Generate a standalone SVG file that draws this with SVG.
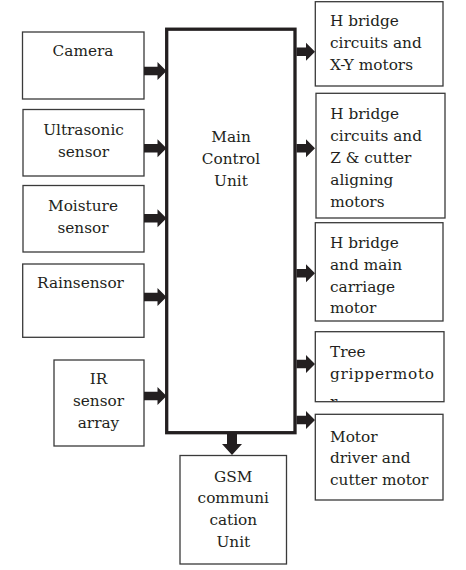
<svg xmlns="http://www.w3.org/2000/svg" width="466" height="570" viewBox="0 0 466 570">
<defs>
<style>
.box{fill:#fff;stroke:#3a3a3a;stroke-width:1.3}
.main{fill:#fff;stroke:#231f20;stroke-width:3.3}
.arr{fill:#231f20}
text{font-family:"DejaVu Serif","Liberation Serif",serif;font-size:15.3px;fill:#231f20}
.c{text-anchor:middle}
</style>
<clipPath id="clipTree"><rect x="316" y="332" width="128" height="69"/></clipPath>
</defs>
<rect width="466" height="570" fill="#fff"/>
<g id="main-control-unit">
<rect class="main" x="166.7" y="29.2" width="128.3" height="403.5"/>
<text class="c" x="231" y="141.5">Main</text>
<text class="c" x="231" y="163.5">Control</text>
<text class="c" x="231" y="185.5">Unit</text>
</g>
<g id="camera">
<rect class="box" x="22.5" y="32" width="121.5" height="67"/>
<text class="c" x="83" y="55.7">Camera</text>
</g>
<g id="ultrasonic">
<rect class="box" x="23" y="109.5" width="121" height="66.5"/>
<text class="c" x="83.5" y="135">Ultrasonic</text>
<text class="c" x="83.5" y="156.7">sensor</text>
</g>
<g id="moisture">
<rect class="box" x="23" y="185.5" width="121" height="66.5"/>
<text class="c" x="83" y="210.7">Moisture</text>
<text class="c" x="83" y="232.7">sensor</text>
</g>
<g id="rain">
<rect class="box" x="22.7" y="264" width="121.3" height="73.3"/>
<text class="c" x="80.5" y="287.7">Rainsensor</text>
</g>
<g id="ir">
<rect class="box" x="54" y="360" width="90" height="86"/>
<text class="c" x="98.5" y="384.3">IR</text>
<text class="c" x="98.5" y="406">sensor</text>
<text class="c" x="98.5" y="427.5">array</text>
</g>
<g id="xy-motors">
<rect class="box" x="315.3" y="1.7" width="127.7" height="84.3"/>
<text x="330" y="26">H bridge</text>
<text x="330" y="48">circuits and</text>
<text x="330" y="70">X-Y motors</text>
</g>
<g id="z-cutter">
<rect class="box" x="316" y="93.3" width="129" height="124.7"/>
<text x="330.3" y="119">H bridge</text>
<text x="330.3" y="141">circuits and</text>
<text x="330.3" y="163">Z &amp; cutter</text>
<text x="330.3" y="185">aligning</text>
<text x="330.3" y="206.7">motors</text>
</g>
<g id="carriage">
<rect class="box" x="315.3" y="222.7" width="127.7" height="98.3"/>
<text x="330" y="247.5">H bridge</text>
<text x="330" y="269.5">and main</text>
<text x="330" y="291.5">carriage</text>
<text x="330" y="313.3">motor</text>
</g>
<g id="tree-gripper">
<text x="330" y="356.7">Tree</text>
<text x="330" y="378.5" textLength="104" lengthAdjust="spacing">grippermoto</text>
<text x="330" y="407.3" clip-path="url(#clipTree)">r</text>
<rect class="box" x="315.3" y="331.7" width="128.7" height="70" style="fill:none"/>
</g>
<g id="cutter-motor">
<rect class="box" x="315.3" y="414.3" width="127.7" height="85.7"/>
<text x="330" y="441.7">Motor</text>
<text x="330" y="463.3">driver and</text>
<text x="330" y="485">cutter motor</text>
</g>
<g id="gsm">
<rect class="box" x="180" y="455.5" width="106.5" height="108.5"/>
<text class="c" x="233.3" y="481.7">GSM</text>
<text class="c" x="233.3" y="503.3">communi</text>
<text class="c" x="233.3" y="525">cation</text>
<text class="c" x="233.3" y="546.7">Unit</text>
</g>
<g id="connectors">
<polygon class="arr" points="144,66.7 157.5,66.7 157.5,62 166.5,71 157.5,80 157.5,75.3 144,75.3"/>
<polygon class="arr" points="144,144 157.5,144 157.5,139.3 166.5,148.3 157.5,157.3 157.5,152.6 144,152.6"/>
<polygon class="arr" points="144,214 157.5,214 157.5,209.3 166.5,218.3 157.5,227.3 157.5,222.6 144,222.6"/>
<polygon class="arr" points="144,292.7 157.5,292.7 157.5,288 166.5,297 157.5,306 157.5,301.3 144,301.3"/>
<polygon class="arr" points="144,391.7 157.5,391.7 157.5,387 166.5,396 157.5,405 157.5,400.3 144,400.3"/>
<polygon class="arr" points="296.5,47.4 306,47.4 306,42.7 315,51.7 306,60.7 306,56 296.5,56"/>
<polygon class="arr" points="296.5,144 306,144 306,139.3 315,148.3 306,157.3 306,152.6 296.5,152.6"/>
<polygon class="arr" points="296.5,269 306,269 306,264.3 315,273.3 306,282.3 306,277.6 296.5,277.6"/>
<polygon class="arr" points="296.5,359.7 306,359.7 306,355 315,364 306,373 306,368.3 296.5,368.3"/>
<polygon class="arr" points="296.5,415.7 306,415.7 306,411 315,420 306,429 306,424.3 296.5,424.3"/>
<polygon class="arr" points="227,434 237,434 237,444 242,444 232,455 222,444 227,444"/>
</g>
</svg>
